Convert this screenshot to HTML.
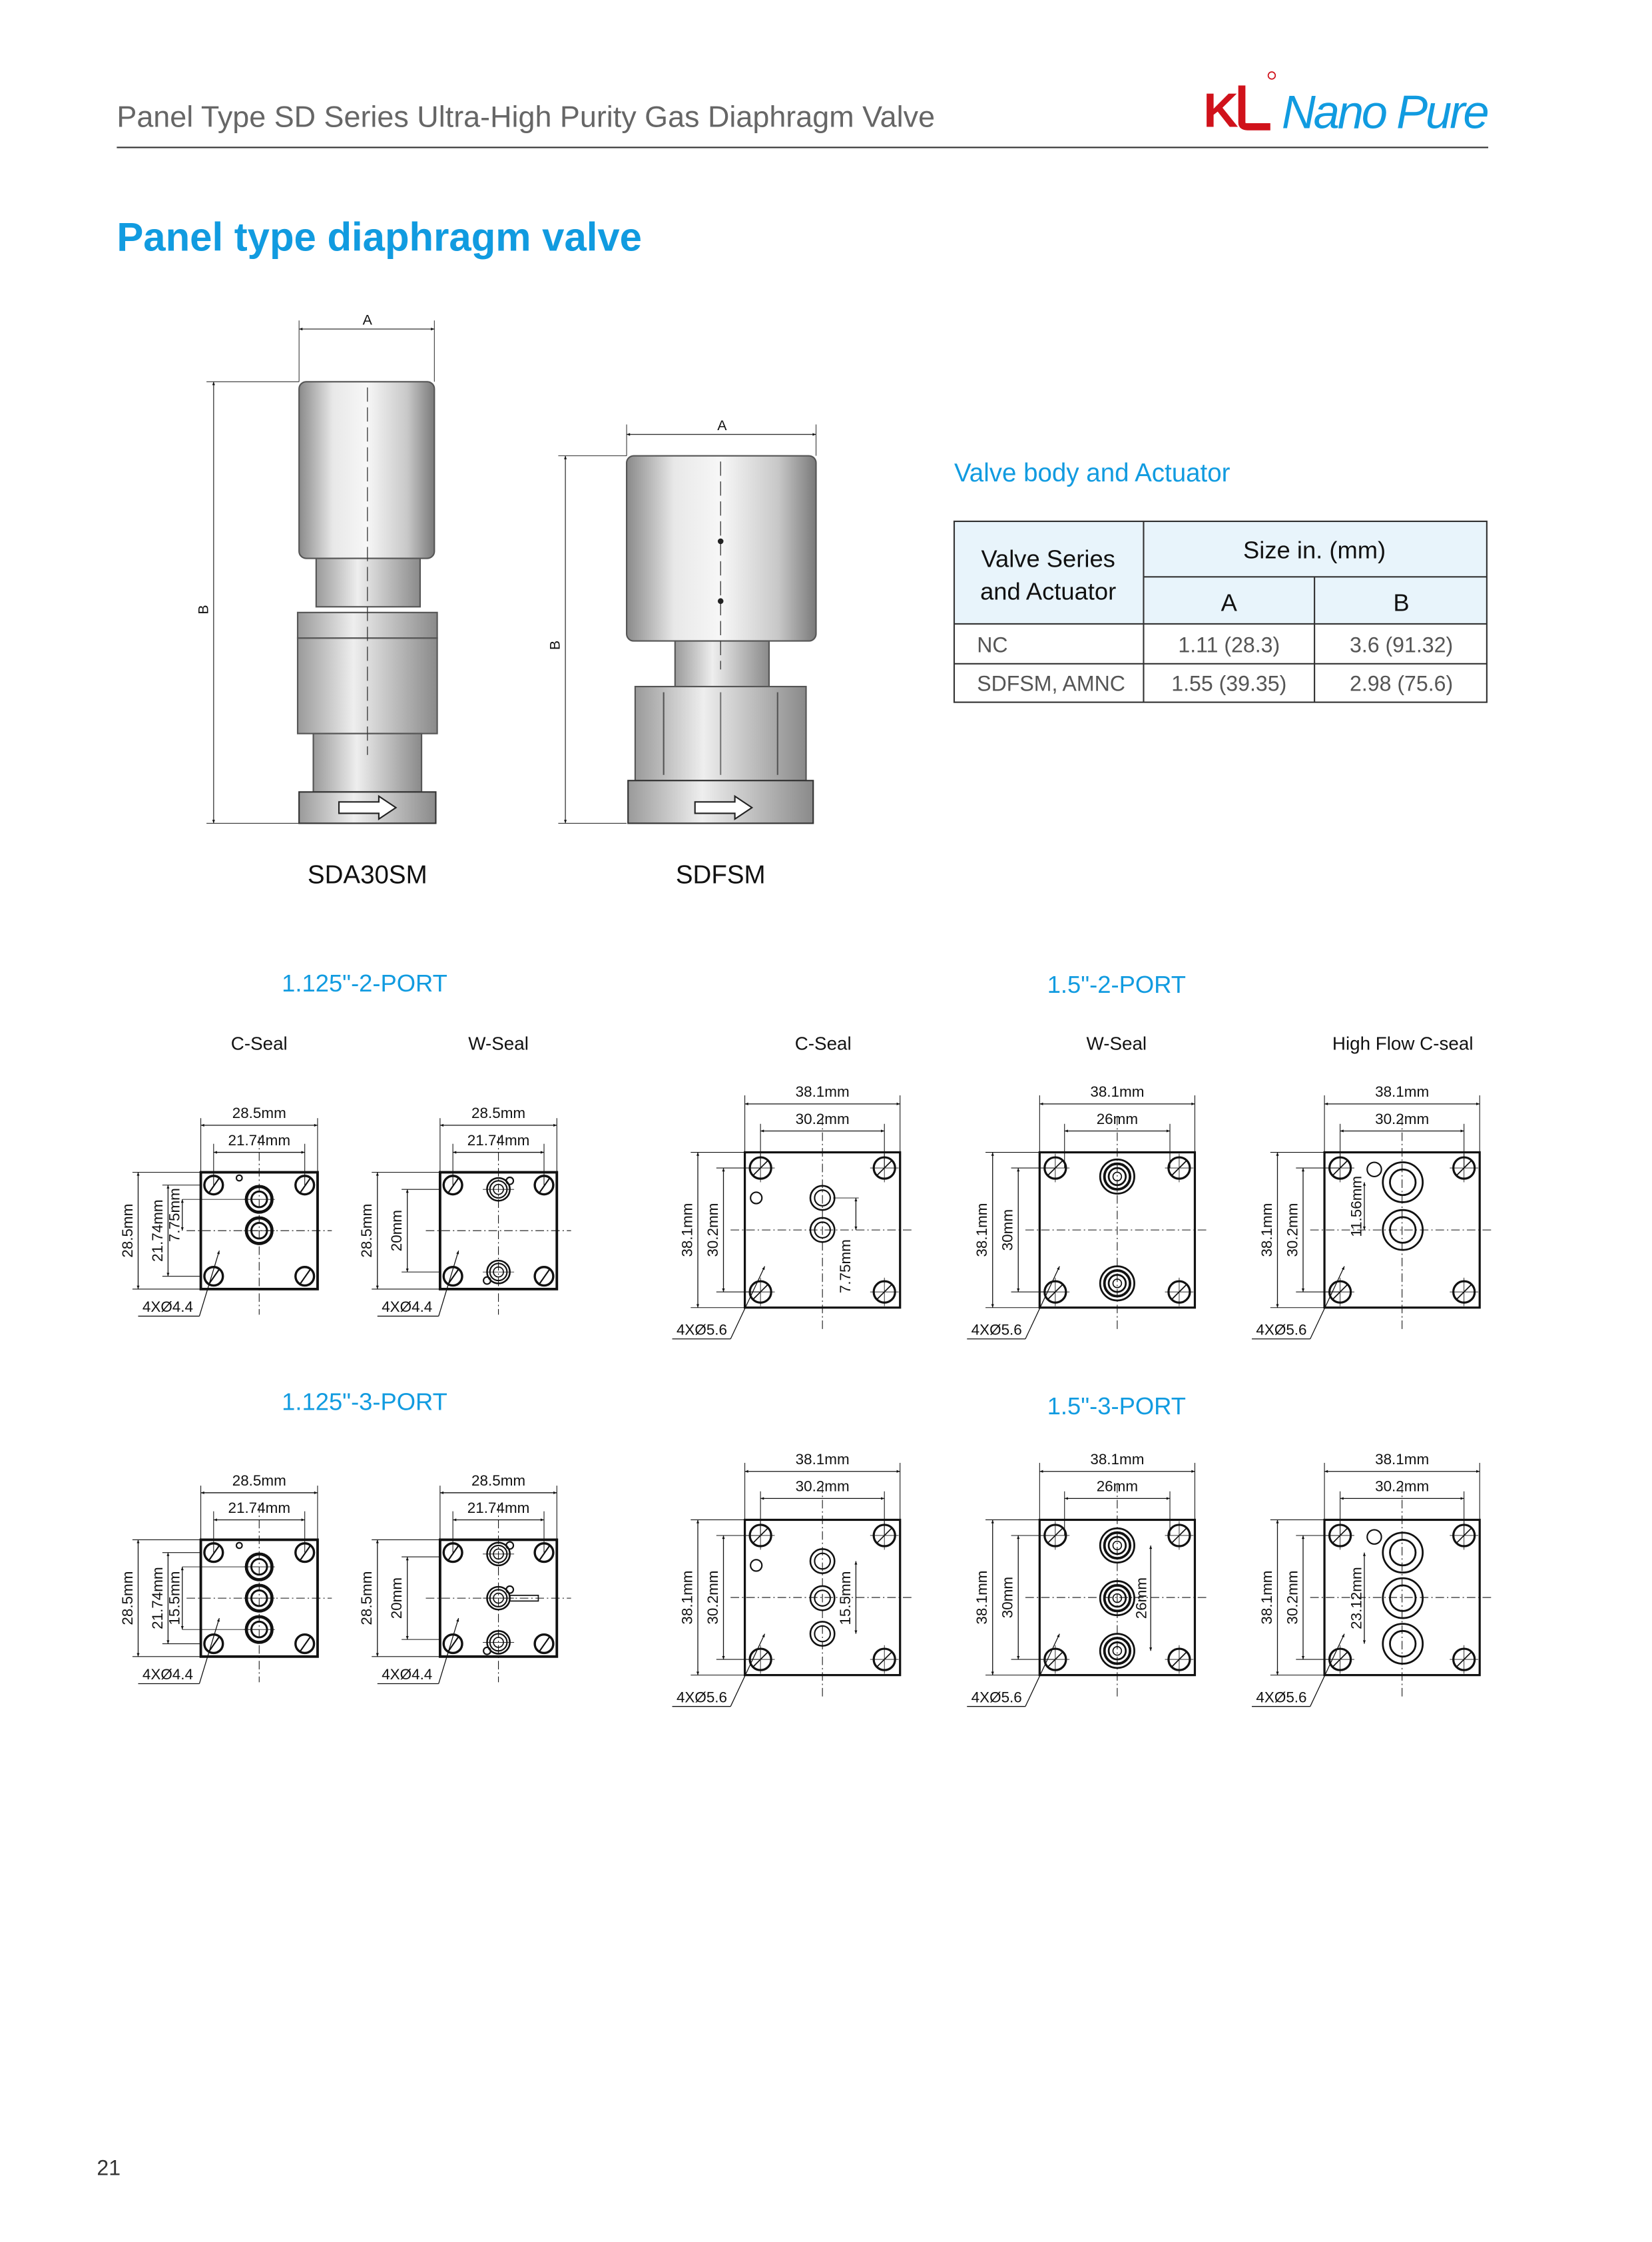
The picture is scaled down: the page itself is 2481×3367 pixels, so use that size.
<!DOCTYPE html>
<html><head><meta charset="utf-8"><style>
html,body{margin:0;padding:0;background:#fff}
svg{display:block}
text{font-family:"Liberation Sans",sans-serif}
.d{font-family:"Liberation Sans",sans-serif;font-size:10.5px;fill:#111;text-anchor:middle}
.s{stroke:#111;fill:none}
</style></head><body>
<svg width="2481" height="3367" viewBox="0 0 1160 1574" preserveAspectRatio="none" xmlns="http://www.w3.org/2000/svg">
<defs>
<marker id="ar" viewBox="0 0 10 10" refX="10" refY="5" markerWidth="6" markerHeight="4" orient="auto-start-reverse"><path d="M0,1 L10,5 L0,9 z" fill="#111"/></marker>
<linearGradient id="cyl" x1="0" x2="1"><stop offset="0" stop-color="#8a8a8a"/><stop offset="0.25" stop-color="#e8e8e8"/><stop offset="0.5" stop-color="#f7f7f7"/><stop offset="0.8" stop-color="#c8c8c8"/><stop offset="1" stop-color="#7a7a7a"/></linearGradient>
<linearGradient id="met" x1="0" x2="1"><stop offset="0" stop-color="#9a9a9a"/><stop offset="0.4" stop-color="#eee"/><stop offset="1" stop-color="#8a8a8a"/></linearGradient>
<g id="hs"><circle r="6.5" class="s" stroke-width="1.6"/><line x1="-3" y1="5" x2="4" y2="-5" stroke="#111" stroke-width="1"/></g>
<g id="hl"><circle r="7.5" class="s" stroke-width="1.5"/><line x1="-5" y1="5" x2="5" y2="-5" stroke="#111" stroke-width="0.8"/><line x1="-10" y1="0" x2="10" y2="0" stroke="#111" stroke-width="0.4"/><line x1="0" y1="-10" x2="0" y2="10" stroke="#111" stroke-width="0.4"/></g>
<g id="pc"><circle r="9" class="s" stroke-width="2.2"/><circle r="5.5" class="s" stroke-width="1.4"/><line x1="-11" y1="0" x2="11" y2="0" stroke="#111" stroke-width="0.4"/></g>
<g id="pw"><circle r="8" class="s" stroke-width="1.2"/><circle r="6" class="s" stroke-width="1"/><circle r="3.5" class="s" stroke-width="0.8"/><circle cx="8" cy="-6" r="2.5" class="s" stroke-width="1"/><line x1="-11" y1="0" x2="11" y2="0" stroke="#111" stroke-width="0.4"/></g>
<g id="plc"><circle r="8.5" class="s" stroke-width="1.2"/><circle r="5.5" class="s" stroke-width="1"/></g>
<g id="plw"><circle r="12" class="s" stroke-width="1.3"/><circle r="9" class="s" stroke-width="1.8"/><circle r="6" class="s" stroke-width="1.3"/><circle r="3" class="s" stroke-width="0.8"/></g>
<g id="phf"><circle r="14" class="s" stroke-width="1.3"/><circle r="9" class="s" stroke-width="1.3"/></g>
<g id="sbase"><rect x="0" y="0" width="82" height="82" class="s" stroke-width="1.8"/>
<line x1="-10" y1="41" x2="92" y2="41" stroke="#111" stroke-width="0.5" stroke-dasharray="6,2,1,2"/>
<line x1="41" y1="-25" x2="41" y2="100" stroke="#111" stroke-width="0.5" stroke-dasharray="6,2,1,2"/>
<line x1="0" y1="-38" x2="0" y2="0" stroke="#111" stroke-width="0.5"/><line x1="82" y1="-38" x2="82" y2="0" stroke="#111" stroke-width="0.5"/>
<line x1="0" y1="-33" x2="82" y2="-33" stroke="#111" stroke-width="0.6" marker-start="url(#ar)" marker-end="url(#ar)"/>
<text class="d" x="41" y="-38">28.5mm</text>
<line x1="9" y1="-20" x2="9" y2="9" stroke="#111" stroke-width="0.5"/><line x1="73" y1="-20" x2="73" y2="9" stroke="#111" stroke-width="0.5"/>
<line x1="9" y1="-14" x2="73" y2="-14" stroke="#111" stroke-width="0.6" marker-start="url(#ar)" marker-end="url(#ar)"/>
<text class="d" x="41" y="-19">21.74mm</text>
<line x1="-48" y1="0" x2="0" y2="0" stroke="#111" stroke-width="0.5"/><line x1="-48" y1="82" x2="0" y2="82" stroke="#111" stroke-width="0.5"/>
<line x1="-44" y1="0" x2="-44" y2="82" stroke="#111" stroke-width="0.6" marker-start="url(#ar)" marker-end="url(#ar)"/>
<text class="d" transform="translate(-48,41) rotate(-90)">28.5mm</text>
<use href="#hs" x="9" y="9"/><use href="#hs" x="73" y="9"/><use href="#hs" x="9" y="73"/><use href="#hs" x="73" y="73"/>
<line x1="-44" y1="101" x2="-1" y2="101" stroke="#111" stroke-width="0.6"/><line x1="-1" y1="101" x2="13" y2="55" stroke="#111" stroke-width="0.6" marker-end="url(#ar)"/>
<text x="-41" y="98" style="font-size:10.5px;fill:#111">4XØ4.4</text>
</g>
<g id="lbase"><rect x="0" y="0" width="109" height="109" class="s" stroke-width="1.5"/>
<line x1="-10" y1="54.5" x2="119" y2="54.5" stroke="#111" stroke-width="0.5" stroke-dasharray="6,2,1,2"/>
<line x1="54.5" y1="-25" x2="54.5" y2="125" stroke="#111" stroke-width="0.5" stroke-dasharray="6,2,1,2"/>
<line x1="0" y1="-40" x2="0" y2="0" stroke="#111" stroke-width="0.5"/><line x1="109" y1="-40" x2="109" y2="0" stroke="#111" stroke-width="0.5"/>
<line x1="0" y1="-34" x2="109" y2="-34" stroke="#111" stroke-width="0.6" marker-start="url(#ar)" marker-end="url(#ar)"/>
<text class="d" x="54.5" y="-39">38.1mm</text>
<line x1="-38" y1="0" x2="0" y2="0" stroke="#111" stroke-width="0.5"/><line x1="-38" y1="109" x2="0" y2="109" stroke="#111" stroke-width="0.5"/>
<line x1="-33" y1="0" x2="-33" y2="109" stroke="#111" stroke-width="0.6" marker-start="url(#ar)" marker-end="url(#ar)"/>
<text class="d" transform="translate(-37,54.5) rotate(-90)">38.1mm</text>
<use href="#hl" x="11" y="11"/><use href="#hl" x="98" y="11"/><use href="#hl" x="11" y="98"/><use href="#hl" x="98" y="98"/>
<line x1="-51" y1="131" x2="-10" y2="131" stroke="#111" stroke-width="0.6"/><line x1="-10" y1="131" x2="14" y2="80" stroke="#111" stroke-width="0.6" marker-end="url(#ar)"/>
<text x="-48" y="128" style="font-size:10.5px;fill:#111">4XØ5.6</text>
</g>
<g id="l302"><line x1="11" y1="-20" x2="11" y2="11" stroke="#111" stroke-width="0.5"/><line x1="98" y1="-20" x2="98" y2="11" stroke="#111" stroke-width="0.5"/>
<line x1="11" y1="-15" x2="98" y2="-15" stroke="#111" stroke-width="0.6" marker-start="url(#ar)" marker-end="url(#ar)"/>
<text class="d" x="54.5" y="-20">30.2mm</text>
<line x1="-20" y1="11" x2="11" y2="11" stroke="#111" stroke-width="0.5"/><line x1="-20" y1="98" x2="11" y2="98" stroke="#111" stroke-width="0.5"/>
<line x1="-15" y1="11" x2="-15" y2="98" stroke="#111" stroke-width="0.6" marker-start="url(#ar)" marker-end="url(#ar)"/>
<text class="d" transform="translate(-19,54.5) rotate(-90)">30.2mm</text></g>
<g id="lw"><line x1="17.5" y1="-20" x2="17.5" y2="11" stroke="#111" stroke-width="0.5"/><line x1="91.5" y1="-20" x2="91.5" y2="11" stroke="#111" stroke-width="0.5"/>
<line x1="17.5" y1="-15" x2="91.5" y2="-15" stroke="#111" stroke-width="0.6" marker-start="url(#ar)" marker-end="url(#ar)"/>
<text class="d" x="54.5" y="-20">26mm</text>
<line x1="-20" y1="11" x2="11" y2="11" stroke="#111" stroke-width="0.5"/><line x1="-20" y1="98" x2="11" y2="98" stroke="#111" stroke-width="0.5"/>
<line x1="-15" y1="11" x2="-15" y2="98" stroke="#111" stroke-width="0.6" marker-start="url(#ar)" marker-end="url(#ar)"/>
<text class="d" transform="translate(-19,54.5) rotate(-90)">30mm</text></g>
</defs>

<!-- header -->
<text x="82" y="89" style="font-size:21px;fill:#666">Panel Type SD Series Ultra-High Purity Gas Diaphragm Valve</text>
<line x1="82" y1="103.5" x2="1045" y2="103.5" stroke="#333" stroke-width="1"/>
<text x="845" y="89" style="font-size:34px;font-weight:bold;fill:#d0121b">K</text>
<path d="M872,60 L872,86 Q872,89 876,89 L892,89" stroke="#d0121b" stroke-width="5" fill="none"/>
<circle cx="893" cy="53" r="2.5" fill="none" stroke="#d0121b" stroke-width="0.8"/>
<text x="900" y="90" style="font-size:33px;font-style:italic;fill:#119be0;letter-spacing:-1.5px">Nano Pure</text>
<text x="82" y="176" style="font-size:28px;font-weight:bold;fill:#119be0">Panel type diaphragm valve</text>

<!-- valve 1 -->
<g>
<line x1="210" y1="225" x2="210" y2="268" stroke="#333" stroke-width="0.5"/><line x1="305" y1="225" x2="305" y2="268" stroke="#333" stroke-width="0.5"/>
<line x1="210" y1="231" x2="305" y2="231" stroke="#333" stroke-width="0.6" marker-start="url(#ar)" marker-end="url(#ar)"/>
<text x="258" y="228" class="d" style="font-size:10px">A</text>
<line x1="145" y1="268" x2="210" y2="268" stroke="#333" stroke-width="0.5"/><line x1="145" y1="578" x2="210" y2="578" stroke="#333" stroke-width="0.5"/>
<line x1="150" y1="268" x2="150" y2="578" stroke="#333" stroke-width="0.6" marker-start="url(#ar)" marker-end="url(#ar)"/>
<text class="d" style="font-size:10px" transform="translate(146,428) rotate(-90)">B</text>
<rect x="210" y="268" width="95" height="124" rx="5" fill="url(#cyl)" stroke="#555"/>
<rect x="222" y="392" width="73" height="34" fill="url(#met)" stroke="#555"/>
<rect x="209" y="430" width="98" height="18" fill="url(#met)" stroke="#555"/>
<rect x="209" y="448" width="98" height="67" fill="url(#met)" stroke="#555"/>
<rect x="220" y="515" width="76" height="41" fill="url(#met)" stroke="#555"/>
<rect x="210" y="556" width="96" height="22" fill="url(#met)" stroke="#333"/>
<path d="M238,563 h28 v-4 l12,8 l-12,8 v-4 h-28z" fill="#fff" stroke="#222" stroke-width="1"/>
<line x1="258" y1="272" x2="258" y2="530" stroke="#333" stroke-width="0.6" stroke-dasharray="10,4"/>
<text x="258" y="620" style="font-size:18px;fill:#111;text-anchor:middle">SDA30SM</text>
</g>
<!-- valve 2 -->
<g>
<line x1="440" y1="298" x2="440" y2="320" stroke="#333" stroke-width="0.5"/><line x1="573" y1="298" x2="573" y2="320" stroke="#333" stroke-width="0.5"/>
<line x1="440" y1="305" x2="573" y2="305" stroke="#333" stroke-width="0.6" marker-start="url(#ar)" marker-end="url(#ar)"/>
<text x="507" y="302" class="d" style="font-size:10px">A</text>
<line x1="392" y1="320" x2="440" y2="320" stroke="#333" stroke-width="0.5"/><line x1="392" y1="578" x2="440" y2="578" stroke="#333" stroke-width="0.5"/>
<line x1="397" y1="320" x2="397" y2="578" stroke="#333" stroke-width="0.6" marker-start="url(#ar)" marker-end="url(#ar)"/>
<text class="d" style="font-size:10px" transform="translate(393,453) rotate(-90)">B</text>
<rect x="440" y="320" width="133" height="130" rx="5" fill="url(#cyl)" stroke="#555"/>
<rect x="474" y="450" width="66" height="32" fill="url(#met)" stroke="#555"/>
<rect x="446" y="482" width="120" height="66" fill="url(#met)" stroke="#555"/>
<line x1="466" y1="486" x2="466" y2="544" stroke="#555"/><line x1="546" y1="486" x2="546" y2="544" stroke="#555"/><line x1="506" y1="486" x2="506" y2="544" stroke="#777"/>
<rect x="441" y="548" width="130" height="30" fill="url(#met)" stroke="#333"/>
<path d="M488,563 h28 v-4 l12,8 l-12,8 v-4 h-28z" fill="#fff" stroke="#222" stroke-width="1"/>
<line x1="506" y1="324" x2="506" y2="470" stroke="#333" stroke-width="0.6" stroke-dasharray="10,4"/>
<circle cx="506" cy="380" r="2" fill="#222"/><circle cx="506" cy="422" r="2" fill="#222"/>
<text x="506" y="620" style="font-size:18px;fill:#111;text-anchor:middle">SDFSM</text>
</g>

<!-- table -->
<text x="670" y="338" style="font-size:18px;fill:#119be0">Valve body and Actuator</text>
<rect x="670" y="366" width="374" height="72" fill="#e8f4fb"/>
<g stroke="#333" stroke-width="1" fill="none">
<rect x="670" y="366" width="374" height="127"/>
<line x1="803" y1="366" x2="803" y2="493"/><line x1="803" y1="405" x2="1044" y2="405"/>
<line x1="923" y1="405" x2="923" y2="493"/><line x1="670" y1="438" x2="1044" y2="438"/><line x1="670" y1="466" x2="1044" y2="466"/>
</g>
<g style="font-size:17px;fill:#111">
<text x="736" y="398" text-anchor="middle">Valve Series</text><text x="736" y="421" text-anchor="middle">and Actuator</text>
<text x="923" y="392" text-anchor="middle">Size  in. (mm)</text>
<text x="863" y="429" text-anchor="middle">A</text><text x="984" y="429" text-anchor="middle">B</text>
</g>
<g style="font-size:15px;fill:#555">
<text x="686" y="458">NC</text><text x="863" y="458" text-anchor="middle">1.11 (28.3)</text><text x="984" y="458" text-anchor="middle">3.6 (91.32)</text>
<text x="686" y="485">SDFSM, AMNC</text><text x="863" y="485" text-anchor="middle">1.55 (39.35)</text><text x="984" y="485" text-anchor="middle">2.98 (75.6)</text>
</g>

<!-- section labels -->
<g style="font-size:17px;fill:#119be0" text-anchor="middle">
<text x="256" y="696">1.125"-2-PORT</text><text x="784" y="697">1.5"-2-PORT</text>
<text x="256" y="990">1.125"-3-PORT</text><text x="784" y="993">1.5"-3-PORT</text>
</g>
<g style="font-size:13px;fill:#111" text-anchor="middle">
<text x="182" y="737">C-Seal</text><text x="350" y="737">W-Seal</text><text x="578" y="737">C-Seal</text><text x="784" y="737">W-Seal</text><text x="985" y="737">High Flow C-seal</text>
</g>

<!-- B1 -->
<g transform="translate(141,823)"><use href="#sbase"/>
<line x1="-27" y1="9" x2="0" y2="9" stroke="#111" stroke-width="0.5"/><line x1="-27" y1="73" x2="0" y2="73" stroke="#111" stroke-width="0.5"/>
<line x1="-23" y1="9" x2="-23" y2="73" stroke="#111" stroke-width="0.6" marker-start="url(#ar)" marker-end="url(#ar)"/>
<text class="d" transform="translate(-27,41) rotate(-90)">21.74mm</text>
<line x1="-13" y1="19" x2="41" y2="19" stroke="#111" stroke-width="0.4"/>
<line x1="-13" y1="19" x2="-13" y2="41" stroke="#111" stroke-width="0.6" marker-start="url(#ar)" marker-end="url(#ar)"/>
<text class="d" transform="translate(-15,30) rotate(-90)">7.75mm</text>
<use href="#pc" x="41" y="19"/><use href="#pc" x="41" y="41"/><circle cx="27" cy="4" r="2" class="s"/></g>
<!-- B2 -->
<g transform="translate(309,823)"><use href="#sbase"/>
<line x1="-27" y1="12" x2="0" y2="12" stroke="#111" stroke-width="0.5"/><line x1="-27" y1="70" x2="0" y2="70" stroke="#111" stroke-width="0.5"/>
<line x1="-23" y1="12" x2="-23" y2="70" stroke="#111" stroke-width="0.6" marker-start="url(#ar)" marker-end="url(#ar)"/>
<text class="d" transform="translate(-27,41) rotate(-90)">20mm</text>
<use href="#pw" x="41" y="12"/><use href="#pw" x="41" y="70" transform="rotate(180 41 70)"/></g>
<!-- B3 -->
<g transform="translate(523,809)"><use href="#lbase"/><use href="#l302"/>
<use href="#plc" x="54.5" y="32"/><use href="#plc" x="54.5" y="54.5"/><circle cx="8" cy="32" r="4" class="s"/>
<line x1="78" y1="32" x2="78" y2="54.5" stroke="#111" stroke-width="0.6" marker-start="url(#ar)" marker-end="url(#ar)"/>
<line x1="62" y1="32" x2="80" y2="32" stroke="#111" stroke-width="0.4"/>
<text class="d" transform="translate(74,80) rotate(-90)">7.75mm</text></g>
<!-- B4 -->
<g transform="translate(730,809)"><use href="#lbase"/><use href="#lw"/>
<use href="#plw" x="54.5" y="17"/><use href="#plw" x="54.5" y="92"/></g>
<!-- B5 -->
<g transform="translate(930,809)"><use href="#lbase"/><use href="#l302"/>
<use href="#phf" x="55" y="21"/><use href="#phf" x="55" y="54.5"/><circle cx="35" cy="12" r="5" class="s"/>
<line x1="28" y1="21" x2="28" y2="54.5" stroke="#111" stroke-width="0.6" marker-start="url(#ar)" marker-end="url(#ar)"/>
<text class="d" transform="translate(26,38) rotate(-90)">11.56mm</text></g>

<!-- B6 -->
<g transform="translate(141,1081)"><use href="#sbase"/>
<line x1="-27" y1="9" x2="0" y2="9" stroke="#111" stroke-width="0.5"/><line x1="-27" y1="73" x2="0" y2="73" stroke="#111" stroke-width="0.5"/>
<line x1="-23" y1="9" x2="-23" y2="73" stroke="#111" stroke-width="0.6" marker-start="url(#ar)" marker-end="url(#ar)"/>
<text class="d" transform="translate(-27,41) rotate(-90)">21.74mm</text>
<line x1="-13" y1="19" x2="41" y2="19" stroke="#111" stroke-width="0.4"/><line x1="-13" y1="63" x2="41" y2="63" stroke="#111" stroke-width="0.4"/>
<line x1="-13" y1="19" x2="-13" y2="63" stroke="#111" stroke-width="0.6" marker-start="url(#ar)" marker-end="url(#ar)"/>
<text class="d" transform="translate(-15,41) rotate(-90)">15.5mm</text>
<use href="#pc" x="41" y="19"/><use href="#pc" x="41" y="41"/><use href="#pc" x="41" y="63"/><circle cx="27" cy="4" r="2" class="s"/></g>
<!-- B7 -->
<g transform="translate(309,1081)"><use href="#sbase"/>
<line x1="-27" y1="12" x2="0" y2="12" stroke="#111" stroke-width="0.5"/><line x1="-27" y1="70" x2="0" y2="70" stroke="#111" stroke-width="0.5"/>
<line x1="-23" y1="12" x2="-23" y2="70" stroke="#111" stroke-width="0.6" marker-start="url(#ar)" marker-end="url(#ar)"/>
<text class="d" transform="translate(-27,41) rotate(-90)">20mm</text>
<use href="#pw" x="41" y="10"/><use href="#pw" x="41" y="41"/><use href="#pw" x="41" y="72" transform="rotate(180 41 72)"/>
<rect x="49" y="39" width="20" height="4" class="s" stroke-width="0.8"/></g>
<!-- B8 -->
<g transform="translate(523,1067)"><use href="#lbase"/><use href="#l302"/>
<use href="#plc" x="54.5" y="29"/><use href="#plc" x="54.5" y="55"/><use href="#plc" x="54.5" y="80"/><circle cx="8" cy="32" r="4" class="s"/>
<line x1="78" y1="29" x2="78" y2="80" stroke="#111" stroke-width="0.6" marker-start="url(#ar)" marker-end="url(#ar)"/>
<text class="d" transform="translate(74,55) rotate(-90)">15.5mm</text></g>
<!-- B9 -->
<g transform="translate(730,1067)"><use href="#lbase"/><use href="#lw"/>
<use href="#plw" x="54.5" y="18"/><use href="#plw" x="54.5" y="55"/><use href="#plw" x="54.5" y="92"/>
<line x1="78" y1="18" x2="78" y2="92" stroke="#111" stroke-width="0.6" marker-start="url(#ar)" marker-end="url(#ar)"/>
<text class="d" transform="translate(75,55) rotate(-90)">26mm</text></g>
<!-- B10 -->
<g transform="translate(930,1067)"><use href="#lbase"/><use href="#l302"/>
<use href="#phf" x="55" y="23"/><use href="#phf" x="55" y="55"/><use href="#phf" x="55" y="87"/><circle cx="35" cy="12" r="5" class="s"/>
<line x1="28" y1="23" x2="28" y2="87" stroke="#111" stroke-width="0.6" marker-start="url(#ar)" marker-end="url(#ar)"/>
<text class="d" transform="translate(26,55) rotate(-90)">23.12mm</text></g>

<text x="68" y="1527" style="font-size:15px;fill:#333">21</text>
</svg>
</body></html>
